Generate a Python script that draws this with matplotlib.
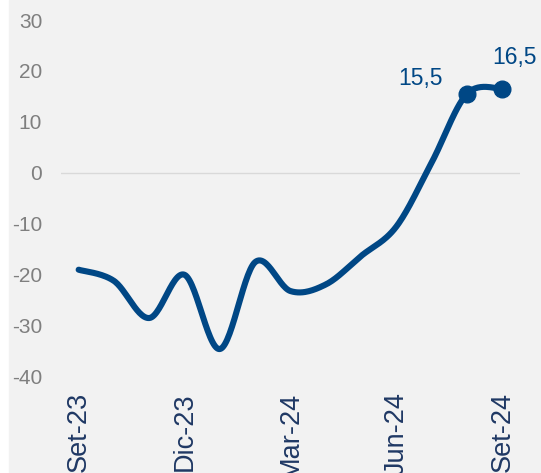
import matplotlib
matplotlib.use("Agg")
import matplotlib.pyplot as plt
import numpy as np
from matplotlib.patches import Rectangle

plt.rcParams["axes.unicode_minus"] = False

months = ["Set-23", "Oct-23", "Nov-23", "Dic-23", "Ene-24", "Feb-24", "Mar-24",
          "Abr-24", "May-24", "Jun-24", "Jul-24", "Ago-24", "Set-24"]
values = [-19.1, -21.3, -28.6, -20.1, -34.7, -17.6, -23.3, -22.0, -16.4, -10.6, 2.0, 15.5, 16.5]
shown_ticks = [0, 3, 6, 9, 12]
labeled_idx = [11, 12]

LINE = "#004785"
XTXT = "#1f3864"
YTXT = "#7f7f7f"
BG = "#f2f2f2"

def smooth(x, y, n=30):
    x = np.asarray(x, float); y = np.asarray(y, float)
    P = np.column_stack([x, y])
    out = []
    for i in range(len(P) - 1):
        p0 = P[i - 1] if i > 0 else P[i]
        p1 = P[i]; p2 = P[i + 1]
        p3 = P[i + 2] if i + 2 < len(P) else P[i + 1]
        c1 = p1 + (p2 - p0) / 6.0
        c2 = p2 - (p3 - p1) / 6.0
        t = np.linspace(0, 1, n)[:, None]
        seg = ((1 - t) ** 3) * p1 + 3 * ((1 - t) ** 2) * t * c1 + 3 * (1 - t) * t ** 2 * c2 + t ** 3 * p2
        if i > 0:
            seg = seg[1:]
        out.append(seg)
    s = np.vstack(out)
    return s[:, 0], s[:, 1]

W, H = 541, 473
fig = plt.figure(figsize=(W / 100, H / 100), dpi=100)
fig.patch.set_facecolor("white")
fig.patches.append(Rectangle((9 / W, 0), 1, 1, transform=fig.transFigure, color=BG, zorder=-10))

ax = fig.add_axes([61 / W, 1 - 376 / H, (520 - 61) / W, (376 - 20) / H])
ax.set_facecolor(BG)
ax.patch.set_alpha(0)

x = np.arange(len(values))
sx, sy = smooth(x, values)
ax.plot(sx, sy, color=LINE, lw=4.4, solid_capstyle="round", zorder=3)
ax.plot(x[labeled_idx], np.array(values)[labeled_idx], "o", color=LINE, ms=12, zorder=4)

ax.axhline(0, color="#d9d9d9", lw=1, zorder=1)

ax.set_xlim(-0.5, len(values) - 0.5)
ax.set_ylim(-40, 30)
ax.set_yticks(np.arange(-40, 31, 10))
ax.set_xticks(shown_ticks)
ax.set_xticklabels([months[i] for i in shown_ticks], rotation=90, va="top", ha="center")
for s in ax.spines.values():
    s.set_visible(False)
ax.tick_params(axis="both", length=0)
ax.tick_params(axis="y", pad=13.5, labelsize=15, labelcolor=YTXT)
ax.tick_params(axis="x", pad=11.5, labelsize=19.5, labelcolor=XTXT)
for lab in ax.get_yticklabels() + ax.get_xticklabels():
    lab.set_fontfamily("Liberation Sans")

fmt = lambda v: f"{v:.1f}".replace(".", ",")
ax.annotate(fmt(values[11]), (x[11], values[11]), xytext=(-17.3, 10.8), textcoords="offset points",
            ha="right", va="center", color=LINE, fontsize=16.5, family="Liberation Sans")
ax.annotate(fmt(values[12]), (x[12], values[12]), xytext=(9, 22.3), textcoords="offset points",
            ha="center", va="center", color=LINE, fontsize=16.5, family="Liberation Sans",
            annotation_clip=False)

fig.savefig("out.png", dpi=100, facecolor=fig.get_facecolor())
